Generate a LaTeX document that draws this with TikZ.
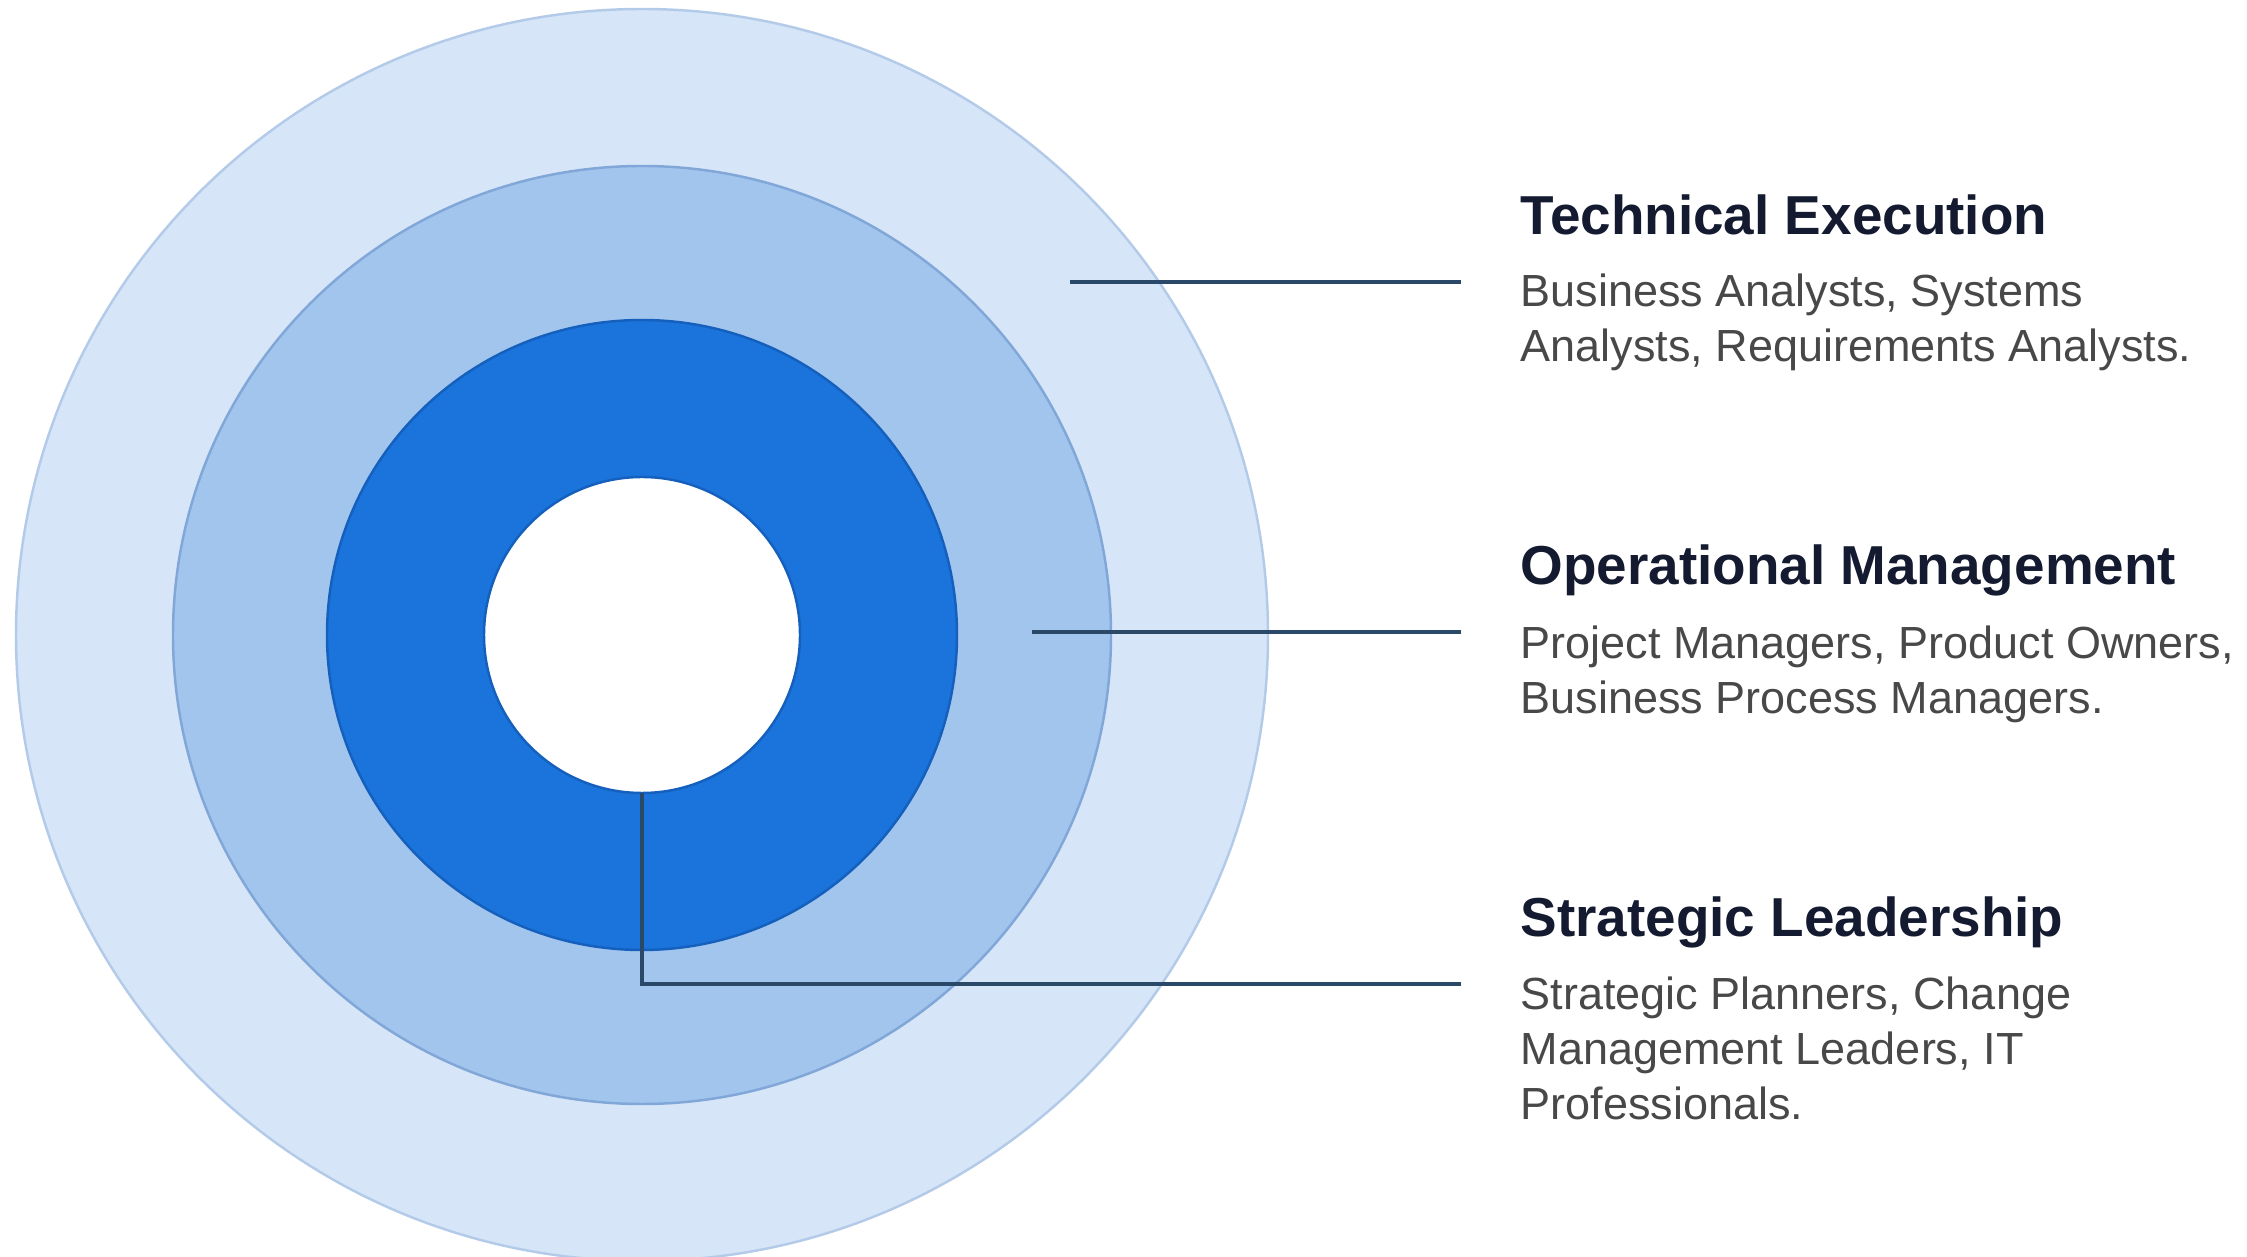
\documentclass[tikz,border=0pt]{standalone}
\usepackage{fontspec}
\setmainfont{Liberation Sans}
\definecolor{ringOut}{HTML}{D6E5F7}
\definecolor{ringOutB}{HTML}{B3CBE8}
\definecolor{ringMid}{HTML}{A2C5EE}
\definecolor{ringMidB}{HTML}{80A7D8}
\definecolor{ringIn}{HTML}{1A74DC}
\definecolor{ringInB}{HTML}{1560BC}
\definecolor{headC}{HTML}{141A30}
\definecolor{bodyC}{HTML}{484848}
\definecolor{leadC}{HTML}{2A4868}
\begin{document}
\begin{tikzpicture}[x=0.01cm, y=0.01cm,
    head/.style={anchor=base west, inner sep=0pt, text=headC, font=\fontsize{15.6}{18}\selectfont\bfseries},
    body/.style={anchor=north west, inner sep=0pt, align=left, text=bodyC, font=\fontsize{12.8}{15.6}\selectfont, execute at begin node=\strut},
    lead/.style={leadC, line width=1.1pt}]
    \useasboundingbox (0,0) rectangle (2247,1257);
    \coordinate (c) at (642,622);
    % rings, outside in
    \filldraw[fill=ringOut, draw=ringOutB, line width=0.7pt] (c) circle (626);
    \filldraw[fill=ringMid, draw=ringMidB, line width=0.7pt] (c) circle (469);
    \filldraw[fill=ringIn, draw=ringInB, line width=0.7pt] (c) circle (315);
    \filldraw[fill=white, draw=ringInB, line width=0.7pt] (c) circle (158);
    % labels
    \node[head] (tech) at (1520,1022) {Technical Execution};
    \node[body] (techtxt) at (1520,984) {Business Analysts, Systems\\Analysts, Requirements Analysts.};
    \node[head] (oper) at (1520,672) {Operational Management};
    \node[body] (opertxt) at (1520,632) {Project Managers, Product Owners,\\Business Process Managers.};
    \node[head] (strat) at (1520,320) {Strategic Leadership};
    \node[body] (strattxt) at (1520,281) {Strategic Planners, Change\\Management Leaders, IT\\Professionals.};
    % leader lines
    \coordinate (t0) at (1070,975); \coordinate (t1) at (1461,975);
    \coordinate (o0) at (1032,625); \coordinate (o1) at (1461,625);
    \coordinate (s0) at (642,464);  \coordinate (s1) at (1461,273);
    \draw[lead] (t0) -- (t1);
    \draw[lead] (o0) -- (o1);
    \draw[lead] (s0) |- (s1);
\end{tikzpicture}
\end{document}
